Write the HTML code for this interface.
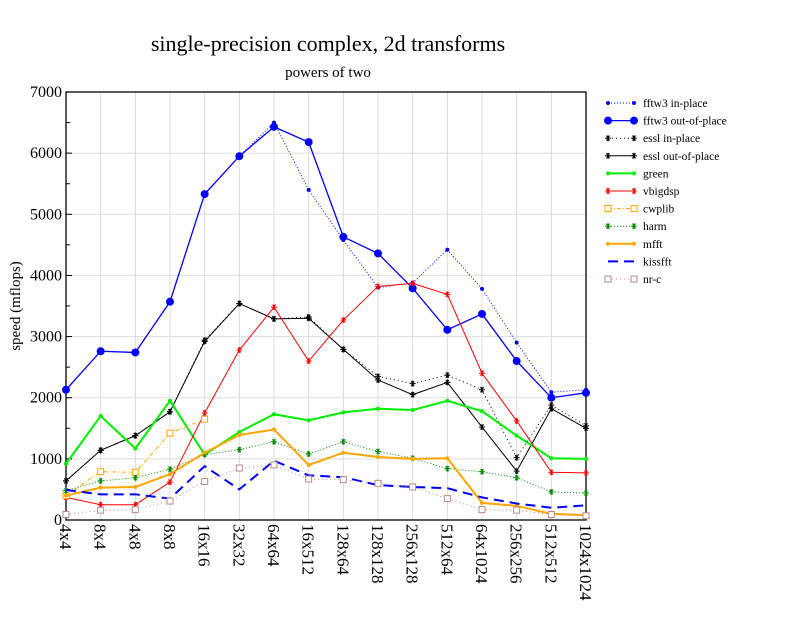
<!DOCTYPE html>
<html><head><meta charset="utf-8"><style>
body{margin:0;background:#fff}
svg{font-family:"Liberation Serif",serif}
</style></head><body>
<svg id="s" width="792" height="612" xmlns="http://www.w3.org/2000/svg">
<text x="328" y="51" font-size="22" text-anchor="middle">single-precision complex, 2d transforms</text>
<text x="328" y="77" font-size="15" text-anchor="middle">powers of two</text>
<text transform="translate(20,306) rotate(-90)" font-size="15" text-anchor="middle">speed (mflops)</text>
</svg>
<script>
const s=document.getElementById('s');const NS='http://www.w3.org/2000/svg';
function el(t,a,txt){const e=document.createElementNS(NS,t);for(const k in a)e.setAttribute(k,a[k]);if(txt!=null)e.textContent=txt;s.appendChild(e);return e;}
const X0=66,X1=586,Y0=520,Y1=92;
const cats=['4x4','8x4','4x8','8x8','16x16','32x32','64x64','16x512','128x64','128x128','256x128','512x64','64x1024','256x256','512x512','1024x1024'];
const xs=i=>X0+i*(X1-X0)/15, ys=v=>Y0-v*(Y0-Y1)/7000;
for(let i=0;i<16;i++){el('line',{x1:xs(i),x2:xs(i),y1:Y1,y2:Y0,stroke:'#ddd'});
 el('text',{transform:`translate(${xs(i)-6},524) rotate(90)`,'font-size':17},cats[i]);}
for(let v=0;v<=7000;v+=1000){el('line',{x1:X0,x2:X1,y1:ys(v),y2:ys(v),stroke:'#ddd'});
 el('text',{x:X0-4,y:ys(v)+5,'font-size':16,'text-anchor':'end'},v);
 el('line',{x1:X0,x2:X0+6,y1:ys(v),y2:ys(v),stroke:'#000'});}
for(let v=500;v<7000;v+=1000){el('line',{x1:X0,x2:X0+4,y1:ys(v),y2:ys(v),stroke:'#000'});}
el('rect',{x:X0,y:Y1,width:X1-X0,height:Y0-Y1,fill:'none',stroke:'#000','stroke-width':1.3});
const S=[
['fftw3 in-place','#0000ff',1,'1,2','dot',2,[2130,2760,2740,3570,5330,5950,6500,5400,4580,3800,3880,4420,3780,2900,2090,2130]],
['fftw3 out-of-place','#0000ff',1.3,'','dot',4,[2130,2760,2740,3570,5330,5950,6430,6180,4630,4360,3790,3110,3370,2600,2000,2080]],
['essl in-place','#000',1,'1,3','star',3,[640,1140,1380,1770,2940,3540,3290,3320,2790,2350,2230,2370,2130,1020,1880,1540]],
['essl out-of-place','#000',1,'','star',3,[640,1140,1380,1770,2920,3540,3290,3300,2790,2290,2050,2250,1520,800,1820,1500]],
['green','#00ee00',2,'','dot',2,[920,1700,1170,1950,1070,1440,1730,1630,1760,1820,1800,1950,1780,1380,1010,1000]],
['vbigdsp','#ff0000',1,'','star',3,[370,250,250,620,1750,2780,3480,2600,3270,3820,3870,3690,2400,1620,780,770]],
['cwplib','#ffa500',1,'4,2,1,2','sq',3,[400,790,780,1420,1650]],
['harm','#008800',1,'1,2','star',3,[480,640,690,830,1070,1150,1280,1080,1280,1120,1010,840,790,690,460,440]],
['mfft','#ffa500',2,'','dot',2,[400,530,540,750,1100,1390,1480,900,1100,1030,1000,1010,280,230,100,80]],
['kissfft','#0000ff',2,'10,6','none',0,[490,420,420,350,880,500,970,730,700,570,540,520,370,270,200,240]],
['nr-c','#bb8888',1,'1,3','sq',3,[90,160,170,310,630,850,900,670,660,600,540,350,170,160,90,70]]];
function mark(type,x,y,c,r){
 if(type=='dot')el('circle',{cx:x,cy:y,r:r,fill:c});
 else if(type=='sq')el('rect',{x:x-r,y:y-r,width:2*r,height:2*r,fill:'#fff',stroke:c});
 else if(type=='star'){for(const a of [0,60,120]){const rad=a*Math.PI/180;el('line',{x1:x-r*Math.cos(rad),y1:y-r*Math.sin(rad),x2:x+r*Math.cos(rad),y2:y+r*Math.sin(rad),stroke:c,'stroke-width':1});}
  el('line',{x1:x,y1:y-r,x2:x,y2:y+r,stroke:c});}
}
S.forEach((d,k)=>{
 const pts=d[6].map((v,i)=>xs(i)+','+ys(v)).join(' ');
 el('polyline',{points:pts,fill:'none',stroke:d[1],'stroke-width':d[2],'stroke-dasharray':d[3]});
 d[6].forEach((v,i)=>mark(d[4],xs(i),ys(v),d[1],d[5]));
 const ly=103+k*17.6;
 el('line',{x1:608,x2:634,y1:ly,y2:ly,stroke:d[1],'stroke-width':d[2],'stroke-dasharray':d[3]});
 mark(d[4],608,ly,d[1],d[5]);mark(d[4],634,ly,d[1],d[5]);
 el('text',{x:643,y:ly+4,'font-size':11.5},d[0]);
});
</script>
</body></html>
